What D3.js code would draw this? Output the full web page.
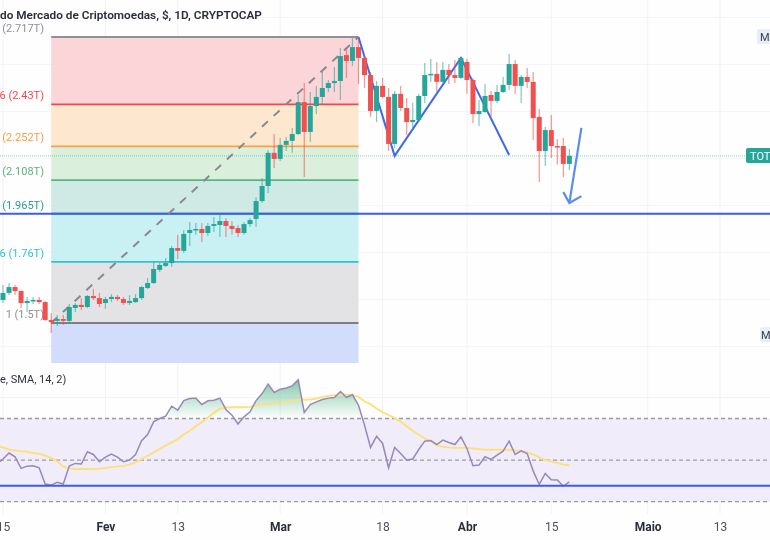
<!DOCTYPE html>
<html>
<head>
<meta charset="utf-8">
<script src="https://cdn.jsdelivr.net/npm/d3@7"></script>
<style>
  html, body { margin: 0; padding: 0; background: #fff; }
  svg { display: block; filter: blur(0.35px); }
  text { font-family: Roboto, "Noto Sans", sans-serif; }
</style>
</head>
<body>
<svg width="770" height="540"></svg>
<script>
// candles, one per day from 15 Jan 2024, prices in trillions
var candleOpen = [1.598,1.628,1.653,1.636,1.585,1.594,1.598,1.589,1.513,1.509,1.517,1.509,1.564,1.577,1.568,1.615,1.606,
  1.585,1.602,1.611,1.602,1.585,1.589,1.606,1.649,1.670,1.726,1.743,1.755,1.819,1.807,1.883,1.896,1.900,1.883,1.913,1.917,1.934,1.913,1.904,1.883,1.921,1.943,2.019,2.083,2.224,
  2.198,2.258,2.275,2.304,2.440,2.313,2.423,2.462,2.500,2.521,2.530,2.640,2.615,2.674,2.628,2.555,2.402,2.509,2.462,2.262,2.475,2.415,2.355,2.364,2.466,2.555,2.560,2.526,2.577,2.555,2.543,
  2.611,2.534,2.389,2.398,2.470,2.445,2.483,2.513,2.602,2.509,2.547,2.526,2.377,2.232,2.321,2.253,2.253,2.177];
var candleHigh = [1.662,1.670,1.662,1.641,1.611,1.611,1.611,1.594,1.543,1.534,1.534,1.581,1.585,1.606,1.619,1.645,1.628,
  1.611,1.623,1.619,1.611,1.619,1.623,1.657,1.691,1.760,1.755,1.777,1.828,1.875,1.896,1.930,1.926,1.926,1.926,1.951,1.964,1.947,1.934,1.917,1.930,1.947,2.036,2.117,2.236,2.304,
  2.287,2.291,2.330,2.470,2.521,2.483,2.509,2.568,2.534,2.589,2.670,2.674,2.713,2.717,2.640,2.568,2.530,2.543,2.500,2.487,2.509,2.457,2.436,2.475,2.606,2.623,2.611,2.611,2.602,2.619,2.632,
  2.623,2.543,2.449,2.517,2.487,2.513,2.547,2.645,2.619,2.555,2.585,2.568,2.411,2.334,2.385,2.283,2.287,2.240];
var candleLow = [1.585,1.619,1.619,1.564,1.547,1.581,1.581,1.509,1.457,1.487,1.491,1.500,1.547,1.555,1.564,1.598,1.568,
  1.560,1.589,1.594,1.577,1.577,1.585,1.598,1.645,1.666,1.717,1.738,1.738,1.772,1.798,1.828,1.875,1.845,1.870,1.887,1.866,1.866,1.875,1.866,1.875,1.909,1.909,2.011,2.053,2.160,
  2.189,2.232,2.224,2.300,2.121,2.270,2.389,2.428,2.483,2.483,2.449,2.543,2.594,2.517,2.500,2.377,2.355,2.457,2.232,2.245,2.402,2.300,2.321,2.355,2.436,2.526,2.483,2.521,2.517,2.521,2.538,
  2.475,2.351,2.338,2.394,2.377,2.436,2.479,2.492,2.475,2.436,2.500,2.279,2.100,2.168,2.202,2.173,2.121,2.151];
var candleClose = [1.628,1.653,1.636,1.585,1.594,1.598,1.589,1.513,1.504,1.517,1.509,1.568,1.577,1.568,1.615,1.606,1.581,
  1.602,1.611,1.602,1.585,1.594,1.606,1.653,1.670,1.730,1.747,1.755,1.819,1.807,1.879,1.896,1.900,1.883,1.913,1.921,1.934,1.913,1.900,1.883,1.921,1.938,2.019,2.083,2.224,2.198,
  2.258,2.275,2.304,2.440,2.313,2.423,2.462,2.500,2.521,2.530,2.636,2.615,2.674,2.628,2.555,2.402,2.509,2.462,2.262,2.475,2.415,2.355,2.364,2.466,2.555,2.560,2.526,2.577,2.555,2.543,2.628,
  2.534,2.389,2.402,2.466,2.445,2.483,2.513,2.602,2.509,2.547,2.526,2.372,2.232,2.321,2.253,2.249,2.177,2.211];

// RSI and its SMA, one per day from 14 Jan 2024
var rsiValues = [48.2,50.5,53.4,51.6,46.0,47.1,47.3,46.3,38.5,38.0,39.3,38.5,47.1,48.4,48.1,54.0,52.7,49.2,51.4,52.9,51.4,49.2,50.0,52.7,59.3,62.3,68.4,70.0,71.1,75.9,74.0,78.6,79.6,79.8,76.7,78.5,78.8,79.8,74.3,71.6,67.4,70.8,73.2,78.6,82.0,86.5,82.5,84.1,84.7,85.7,88.6,
  72.9,76.7,78.0,79.1,79.8,80.1,83.0,80.2,81.4,76.4,66.8,56.1,61.4,58.0,46.3,56.1,53.2,50.0,50.5,55.1,59.1,59.4,57.5,59.6,58.5,57.5,61.2,55.6,47.3,47.6,51.6,50.3,52.4,54.3,59.1,52.7,54.5,53.2,44.7,38.3,43.6,40.6,40.4,37.4,39.6];
var smaValues = [56.7,56.1,55.1,54.6,54.3,54.0,53.4,53.0,52.2,51.0,49.4,46.8,46.0,45.7,45.7,45.7,45.8,45.8,46.2,46.6,47.0,47.1,47.8,49.0,50.5,52.1,53.7,55.4,57.0,58.5,60.1,62.3,64.1,66.3,68.2,70.5,72.7,74.8,75.3,75.4,75.4,75.4,75.6,76.4,76.9,77.0,77.4,77.5,78.0,78.5,79.1,
  79.0,79.1,79.6,80.4,80.9,81.2,81.5,81.5,81.2,80.4,78.3,76.9,74.8,73.0,71.6,70.3,68.4,66.3,64.1,62.2,60.4,59.0,57.2,56.4,56.1,55.9,55.9,55.9,55.6,55.3,55.0,55.0,55.0,55.0,55.0,54.6,54.3,53.7,52.7,51.3,50.0,49.4,48.7,47.9,47.4];

// fibonacci retracement
var fibLevels = [2.717, 2.43, 2.252, 2.108, 1.965, 1.76, 1.5];
var fibLabels = ['(2.717T)', '6 (2.43T)', '(2.252T)', '(2.108T)', '(1.965T)', '6 (1.76T)', '1 (1.5T)'];
var fibLine = ['#8f9097', '#f4474d', '#ff9d42', '#57b67c', '#2a9d90', '#2fc3d2', '#7d7e86'];
var fibFill = ['#fbd5d7', '#fde8cf', '#dbefdd', '#cfe9e5', '#c9f1f3', '#e3e3e5', '#d2dcfb'];
var fibStart = '2024-01-23', fibEnd = '2024-03-14';

// hand drawn lines
var zigzagDates = ['2024-03-14', '2024-03-20', '2024-03-31', '2024-04-08'];
var zigzagPrices = [2.717, 2.211, 2.628, 2.215];
var arrowDates = ['2024-04-20', '2024-04-18'];
var arrowPrices = [2.330, 2.011];
var arrowHeadDates = ['2024-04-17', '2024-04-18', '2024-04-20'];
var arrowHeadPrices = [2.057, 2.011, 2.040];
var supportPrice = 1.965, supportRsi = 37.7;

// axes
var timeTicks = ['2024-01-15', '2024-02-01', '2024-02-13', '2024-03-01', '2024-03-18', '2024-04-01', '2024-04-15', '2024-05-01', '2024-05-13'];
var timeLabels = ['15', 'Fev', '13', 'Mar', '18', 'Abr', '15', 'Maio', '13'];
var monthLabels = ['Fev', 'Mar', 'Abr', 'Maio'];
var priceGrid = [2.8, 2.6, 2.4, 2.2, 2.0, 1.8, 1.6, 1.4];
var rsiGrid = [80, 60, 40];
var rsiBands = [70, 50, 30];

var width = 770;
var svg = d3.select('svg');
var parse = d3.utcParse('%Y-%m-%d');
var dayMs = 86400000;
var candleDate = (d, i) => new Date(parse('2024-01-15').getTime() + i * dayMs);
var rsiDate = (d, i) => new Date(parse('2024-01-14').getTime() + i * dayMs);

var x = d3.scaleUtc().domain([parse('2024-01-15'), parse('2024-05-13')]).range([3, 720]);
var y = d3.scaleLinear().domain([1.5, 2.717]).range([323, 37]);
var yRsi = d3.scaleLinear().domain([30, 70]).range([501.7, 418.5]);
var paneBottom = 363;

svg.append('rect').attr('width', width).attr('height', 540).attr('fill', '#fefefe');

svg.append('defs').append('clipPath').attr('id', 'pane')
  .append('rect').attr('width', width).attr('height', paneBottom);

// grid
svg.append('g').selectAll('line').data(timeTicks).enter().append('line')
  .attr('x1', d => x(parse(d))).attr('x2', d => x(parse(d)))
  .attr('y1', 0).attr('y2', 514)
  .attr('stroke', '#f1f2f5');
svg.append('g').selectAll('line').data(priceGrid).enter().append('line')
  .attr('x1', 0).attr('x2', width)
  .attr('y1', d => y(d)).attr('y2', d => y(d))
  .attr('stroke', '#f4f5f7');

// rsi background
svg.append('rect')
  .attr('x', 0).attr('width', width)
  .attr('y', yRsi(70)).attr('height', yRsi(30) - yRsi(70))
  .attr('fill', '#f0ecf9');
svg.append('g').selectAll('line').data(rsiGrid).enter().append('line')
  .attr('x1', 0).attr('x2', width)
  .attr('y1', d => yRsi(d)).attr('y2', d => yRsi(d))
  .attr('stroke', '#f1f1f5');
svg.append('g').selectAll('line').data(rsiBands).enter().append('line')
  .attr('x1', 0).attr('x2', width)
  .attr('y1', d => yRsi(d)).attr('y2', d => yRsi(d))
  .attr('stroke', '#9b9b9f')
  .attr('stroke-width', 1.3)
  .attr('stroke-dasharray', '4 3');

// fib zones
var fibX0 = x(parse(fibStart)), fibX1 = x(parse(fibEnd));
var fibG = svg.append('g').attr('clip-path', 'url(#pane)');
fibG.selectAll('rect').data(fibLevels).enter().append('rect')
  .attr('x', fibX0).attr('width', fibX1 - fibX0)
  .attr('y', d => y(d))
  .attr('height', (d, i) => (i < fibLevels.length - 1 ? y(fibLevels[i + 1]) : paneBottom) - y(d))
  .attr('fill', (d, i) => fibFill[i]);

// last price dotted line
svg.append('line')
  .attr('x1', 0).attr('x2', 746)
  .attr('y1', y(candleClose[candleClose.length - 1])).attr('y2', y(candleClose[candleClose.length - 1]))
  .attr('stroke', '#26a69a').attr('stroke-opacity', 0.55)
  .attr('stroke-dasharray', '1 1');

// support line, full width
svg.append('line')
  .attr('x1', 0).attr('x2', width)
  .attr('y1', y(supportPrice)).attr('y2', y(supportPrice))
  .attr('stroke', '#3c5fe0').attr('stroke-width', 1.9);

fibG.selectAll('line').data(fibLevels).enter().append('line')
  .attr('x1', fibX0).attr('x2', fibX1)
  .attr('y1', d => y(d)).attr('y2', d => y(d))
  .attr('stroke', (d, i) => fibLine[i])
  .attr('stroke-width', 1.8);

svg.append('line')
  .attr('x1', fibX0).attr('x2', fibX1)
  .attr('y1', y(fibLevels[6])).attr('y2', y(fibLevels[0]))
  .attr('stroke', '#8b8790').attr('stroke-width', 2)
  .attr('stroke-dasharray', '8 8');

svg.append('g').selectAll('text').data(fibLabels).enter().append('text')
  .attr('x', 44).attr('y', (d, i) => y(fibLevels[i]) - 5)
  .attr('text-anchor', 'end')
  .attr('font-size', 11)
  .attr('fill', (d, i) => i === 0 || i === 6 ? '#8f9097' : fibLine[i])
  .text(d => d);

// blue zigzag sits under the candles
var priceLine = d3.line().x(d => x(parse(d[0]))).y(d => y(d[1]));
svg.append('path')
  .attr('d', priceLine(d3.zip(zigzagDates, zigzagPrices)))
  .attr('fill', 'none').attr('stroke', '#3f69e6').attr('stroke-width', 2);

// candles
var candles = svg.append('g').selectAll('g').data(candleOpen).enter().append('g');
var candleColor = (d, i) => candleClose[i] >= d ? '#26a69a' : '#f0504f';
candles.append('line')
  .attr('x1', (d, i) => x(candleDate(d, i))).attr('x2', (d, i) => x(candleDate(d, i)))
  .attr('y1', (d, i) => y(candleHigh[i])).attr('y2', (d, i) => y(candleLow[i]))
  .attr('stroke', candleColor).attr('stroke-opacity', 0.6).attr('stroke-width', 1.2);
candles.append('rect')
  .attr('x', (d, i) => x(candleDate(d, i)) - 2.5)
  .attr('width', 5)
  .attr('y', (d, i) => y(Math.max(d, candleClose[i])))
  .attr('height', (d, i) => Math.max(1.5, Math.abs(y(d) - y(candleClose[i]))))
  .attr('fill', candleColor);

// arrow
svg.append('path')
  .attr('d', priceLine(d3.zip(arrowDates, arrowPrices)))
  .attr('fill', 'none').attr('stroke', '#5b8cef').attr('stroke-width', 2.2);
svg.append('path')
  .attr('d', priceLine(d3.zip(arrowHeadDates, arrowHeadPrices)))
  .attr('fill', 'none').attr('stroke', '#5b8cef').attr('stroke-width', 2.2);

// rsi pane
var grad = svg.select('defs').append('linearGradient')
  .attr('id', 'over').attr('gradientUnits', 'userSpaceOnUse')
  .attr('x1', 0).attr('x2', 0).attr('y1', yRsi(90)).attr('y2', yRsi(70));
grad.append('stop').attr('offset', 0).attr('stop-color', '#3fae7a').attr('stop-opacity', 0.7);
grad.append('stop').attr('offset', 1).attr('stop-color', '#3fae7a').attr('stop-opacity', 0);

svg.append('path')
  .attr('d', d3.area().x((d, i) => x(rsiDate(d, i))).y0(yRsi(70)).y1(d => yRsi(Math.max(d, 70)))(rsiValues))
  .attr('fill', 'url(#over)');

var dailyLine = d3.line().x((d, i) => x(rsiDate(d, i)));
svg.append('path')
  .attr('d', dailyLine.y(d => yRsi(d))(smaValues))
  .attr('fill', 'none').attr('stroke', '#fce17a').attr('stroke-width', 1.9);
svg.append('path')
  .attr('d', dailyLine.y(d => yRsi(d))(rsiValues))
  .attr('fill', 'none').attr('stroke', '#9788ba').attr('stroke-width', 1.5);

svg.append('line')
  .attr('x1', 0).attr('x2', width)
  .attr('y1', yRsi(supportRsi)).attr('y2', yRsi(supportRsi))
  .attr('stroke', '#3c5fe0').attr('stroke-width', 1.9);

// time axis
var axis = d3.axisBottom(x)
  .tickValues(timeTicks.map(parse))
  .tickFormat((d, i) => timeLabels[i])
  .tickSize(0);
var axisG = svg.append('g').attr('transform', 'translate(0,519)').call(axis);
axisG.select('.domain').remove();
axisG.selectAll('text')
  .attr('font-size', 12)
  .attr('font-family', 'Roboto, sans-serif')
  .attr('font-weight', (d, i) => monthLabels.includes(timeLabels[i]) ? 700 : 400)
  .attr('fill', (d, i) => monthLabels.includes(timeLabels[i]) ? '#2a2e39' : '#4c505b');

// titles
svg.append('text').attr('x', 0).attr('y', 19)
  .attr('font-size', 11.8).attr('font-weight', 600).attr('fill', '#2a2e39')
  .text('do Mercado de Criptomoedas, $, 1D, CRYPTOCAP');
svg.append('text').attr('x', 0).attr('y', 383)
  .attr('font-size', 11).attr('fill', '#2f3340')
  .text('e, SMA, 14, 2)');

// right edge labels
svg.append('rect').attr('x', 746).attr('y', 148).attr('width', 26).attr('height', 15).attr('rx', 2).attr('fill', '#26a69a');
svg.append('text').attr('x', 750).attr('y', 160).attr('font-size', 11).attr('fill', '#fff').text('TOT');
svg.append('rect').attr('x', 757).attr('y', 29).attr('width', 15).attr('height', 15).attr('rx', 2).attr('fill', '#e8edf8');
svg.append('text').attr('x', 760).attr('y', 41).attr('font-size', 11).attr('fill', '#3a3e4a').text('M');
svg.append('rect').attr('x', 760).attr('y', 327).attr('width', 12).attr('height', 15).attr('rx', 2).attr('fill', '#e8edf8');
svg.append('text').attr('x', 761).attr('y', 339).attr('font-size', 11).attr('fill', '#3a3e4a').text('M');
</script>
</body>
</html>
